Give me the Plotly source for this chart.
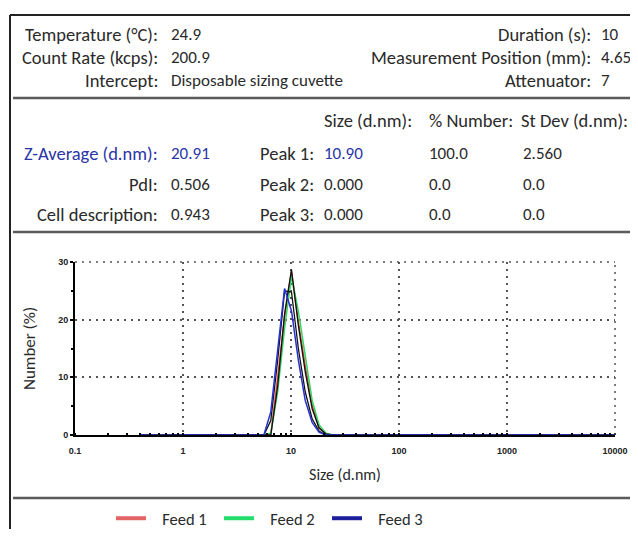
import plotly.graph_objects as go

# ---------------- data ----------------
sizes = [0.4, 4.85, 5.61, 6.50, 7.53, 8.72, 10.1, 11.7, 13.54, 15.69, 18.17, 21.04, 24.36, 10000]
feed1 = [0, 0, 0, 0.0, 10.0, 20.5, 28.3, 19.6, 12.0, 5.2, 1.3, 0.2, 0, 0]
feed2 = [0, 0, 0, 0.3, 7.5, 18.5, 27.5, 21.5, 13.5, 6.0, 1.8, 0.3, 0, 0]
feed3 = [0, 0, 0.0, 4.0, 15.0, 25.4, 21.5, 13.0, 6.0, 2.2, 0.5, 0, 0, 0]
record_a = [0, 0, 0, 2.5, 13.0, 25.0, 24.8, 15.0, 7.5, 2.8, 0.7, 0, 0, 0]
record_b = [0, 0, 0, 0.0, 8.5, 21.0, 28.7, 19.0, 11.0, 4.6, 1.2, 0.2, 0, 0]

series_names = ["Feed 1", "Feed 2", "Feed 3"]
x_tick_vals = [0.1, 1, 10, 100, 1000, 10000]
x_tick_text = ["0.1", "1", "10", "100", "1000", "10000"]
y_tick_vals = [0, 10, 20, 30]

header_left = [("Temperature (°C):", "24.9"), ("Count Rate (kcps):", "200.9"),
               ("Intercept:", "Disposable sizing cuvette")]
header_right = [("Duration (s):", "10"), ("Measurement Position (mm):", "4.65"),
                ("Attenuator:", "7")]
col_heads = ["Size (d.nm):", "% Number:", "St Dev (d.nm):"]
left_rows = [("Z-Average (d.nm):", "20.91"), ("PdI:", "0.506"), ("Cell description:", "0.943")]
peak_rows = [("Peak 1:", "10.90", "100.0", "2.560"), ("Peak 2:", "0.000", "0.0", "0.0"),
             ("Peak 3:", "0.000", "0.0", "0.0")]

# ---------------- layout geometry (page px; the page has an 8px body margin) ----------------
OFF = 8
W, H = 638 - 2 * OFF, 537 - 2 * OFF
L, R, T, B = 75 - OFF, 615 - OFF, 262 - OFF, 435 - OFF


def fx(px):
    return (px - OFF - L) / (R - L)


def fy(py):
    return (B - (py - OFF)) / (B - T)


TXT = "Carlito, Calibri, Lato, sans-serif"
DARK = "#2a2a2a"
BLUE = "#2a35a8"
FS_LAB = 18.5
FS_VAL = 17

fig = go.Figure()

line_cols = ["#f0413c", "#2fd866", "#2430d0"]
fig.add_trace(go.Scatter(x=sizes, y=feed1, mode="lines", line=dict(color=line_cols[0], width=1.5),
                         showlegend=False, cliponaxis=False))
fig.add_trace(go.Scatter(x=sizes, y=feed2, mode="lines", line=dict(color=line_cols[1], width=1.5),
                         showlegend=False, cliponaxis=False))
fig.add_trace(go.Scatter(x=sizes, y=record_b, mode="lines", line=dict(color="#111111", width=1.3),
                         showlegend=False, cliponaxis=False))
fig.add_trace(go.Scatter(x=sizes, y=record_a, mode="lines", line=dict(color="#111111", width=1.3),
                         showlegend=False, cliponaxis=False))
fig.add_trace(go.Scatter(x=sizes, y=feed3, mode="lines", line=dict(color=line_cols[2], width=1.5),
                         showlegend=False, cliponaxis=False))

legend_cols = ["#e36464", "#22dd6a", "#1c1f9a"]
for name, c in zip(series_names, legend_cols):
    fig.add_trace(go.Scatter(x=[None], y=[None], mode="lines", name="\u00a0\u00a0\u00a0" + name,
                             line=dict(color=c, width=4)))

grid_dash = "2px,5px"
tick_font = dict(family="Liberation Sans, Arial", size=9, color="#222", weight="bold")
fig.update_xaxes(type="log", range=[-1, 4], tickvals=x_tick_vals, ticktext=x_tick_text,
                 showline=True, linecolor="black", linewidth=2,
                 showgrid=True, gridcolor="#555555", gridwidth=1.5, griddash=grid_dash,
                 ticks="", tickfont=tick_font, ticklabelstandoff=6,
                 minor=dict(ticks="inside", ticklen=2, tickwidth=2, tickcolor="black",
                            showgrid=False, dtick="D1"),
                 zeroline=False,
                 title=dict(text="Size (d.nm)", font=dict(family=TXT, size=16, color=DARK), standoff=14))
fig.update_yaxes(range=[0, 30], tickvals=y_tick_vals,
                 showline=True, linecolor="black", linewidth=2,
                 showgrid=True, gridcolor="#555555", gridwidth=1.5, griddash=grid_dash,
                 ticks="outside", ticklen=3, tickwidth=2, tickcolor="black",
                 tickfont=tick_font,
                 minor=dict(tickvals=[5, 15, 25], ticks="outside", ticklen=2, tickwidth=2,
                            tickcolor="black", showgrid=False),
                 zeroline=False,
                 title=dict(text="Number (%)", font=dict(family=TXT, size=17, color=DARK), standoff=18))

shapes = []
shapes.append(dict(type="line", xref="paper", yref="paper", x0=0, x1=1, y0=1, y1=1,
                   line=dict(color="#555555", width=1.5, dash=grid_dash)))
shapes.append(dict(type="line", xref="paper", yref="paper", x0=1, x1=1, y0=0, y1=1,
                   line=dict(color="#555555", width=1.5, dash=grid_dash)))
# report frame
shapes.append(dict(type="line", xref="paper", yref="paper", x0=fx(10), x1=fx(10), y0=fy(15), y1=fy(545),
                   line=dict(color="#222222", width=2)))
shapes.append(dict(type="line", xref="paper", yref="paper", x0=fx(10), x1=fx(650), y0=fy(15), y1=fy(15),
                   line=dict(color="#222222", width=2)))
for sy in [98, 232, 498]:
    shapes.append(dict(type="line", xref="paper", yref="paper", x0=fx(13), x1=fx(650), y0=fy(sy), y1=fy(sy),
                       line=dict(color="#5a5a5a", width=2.5)))

ann = []


def txt(x, y, s, anchor, color=DARK, size=FS_LAB):
    ann.append(dict(x=fx(x), y=fy(y), xref="paper", yref="paper", text=s, showarrow=False,
                    xanchor=anchor, yanchor="middle",
                    font=dict(family=TXT, size=size, color=color)))


row_y = [35, 57, 80]
for (lab, val), yy in zip(header_left, row_y):
    txt(160, yy, lab, "right")
    txt(169, yy, val, "left", size=FS_VAL)
for (lab, val), yy in zip(header_right, row_y):
    txt(593, yy, lab, "right")
    txt(599, yy, val, "left", size=FS_VAL)

txt(322, 120, col_heads[0], "left")
txt(427, 120, col_heads[1], "left")
txt(519, 120, col_heads[2], "left")

tab_y = [153, 184, 214]
for i, ((lab, val), (pk, sz, num, sd)) in enumerate(zip(left_rows, peak_rows)):
    yy = tab_y[i]
    c = BLUE if i == 0 else DARK
    txt(160, yy, lab, "right", c)
    txt(169, yy, val, "left", c, FS_VAL)
    txt(316, yy, pk, "right")
    txt(322, yy, sz, "left", BLUE if i == 0 else DARK, FS_VAL)
    txt(427, yy, num, "left", size=FS_VAL)
    txt(521, yy, sd, "left", size=FS_VAL)

fig.update_layout(
    width=W, height=H,
    margin=dict(l=L, r=W - R, t=T, b=H - B, autoexpand=False),
    paper_bgcolor="white", plot_bgcolor="white",
    shapes=shapes, annotations=ann,
    legend=dict(orientation="h", xref="container", yref="container",
                x=(111 - OFF) / W, y=1 - (501 - OFF) / H, xanchor="left", yanchor="top",
                itemwidth=30, entrywidth=63, entrywidthmode="pixels",
                font=dict(family=TXT, size=16.5, color=DARK), bgcolor="rgba(0,0,0,0)"),
    showlegend=True,
)

fig.write_html("out.html")
